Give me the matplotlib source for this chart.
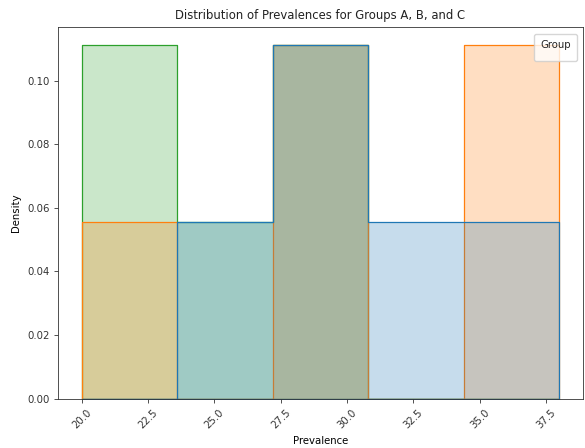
import matplotlib
matplotlib.use("Agg")
import matplotlib.pyplot as plt
import seaborn as sns
import pandas as pd
import warnings
warnings.filterwarnings("ignore")

groups = ["A", "B", "C"]
prev_a = [25.0, 28.0, 29.5, 32.0, 36.0]
prev_b = [20.0, 28.5, 30.0, 35.5, 38.0]
prev_c = [21.0, 22.5, 25.5, 28.0, 29.0]

df = pd.DataFrame({
    "Prevalence": prev_a + prev_b + prev_c,
    "Group": ["A"] * len(prev_a) + ["B"] * len(prev_b) + ["C"] * len(prev_c),
})

fs = 7.3
plt.rcParams.update({
    "font.size": fs,
    "axes.labelsize": fs,
    "xtick.labelsize": fs,
    "ytick.labelsize": fs,
    "axes.titlesize": 8.4,
    "axes.linewidth": 0.6,
    "axes.edgecolor": "#333333",
    "xtick.major.width": 0.6,
    "ytick.major.width": 0.6,
    "xtick.major.size": 2.6,
    "ytick.major.size": 2.6,
    "text.color": "#222222",
    "xtick.color": "#333333",
    "ytick.color": "#333333",
})

fig = plt.figure(figsize=(5.85, 4.48), dpi=100)
ax = fig.add_axes([58 / 585, (448 - 398.7) / 448, (583 - 58) / 585, (398.7 - 27.5) / 448])

sns.histplot(data=df, x="Prevalence", hue="Group", hue_order=groups,
             element="step", stat="density", common_norm=False, bins=5,
             linewidth=0.9, ax=ax)

ax.set_title("Distribution of Prevalences for Groups A, B, and C")
ax.set_xlabel("Prevalence")
ax.set_ylabel("Density")
for lab in ax.get_xticklabels():
    lab.set_rotation(45)
ax.legend(title="Group", title_fontsize=fs, loc="upper right",
          borderpad=0.6, borderaxespad=0.6)

fig.savefig("out.png", dpi=100)
